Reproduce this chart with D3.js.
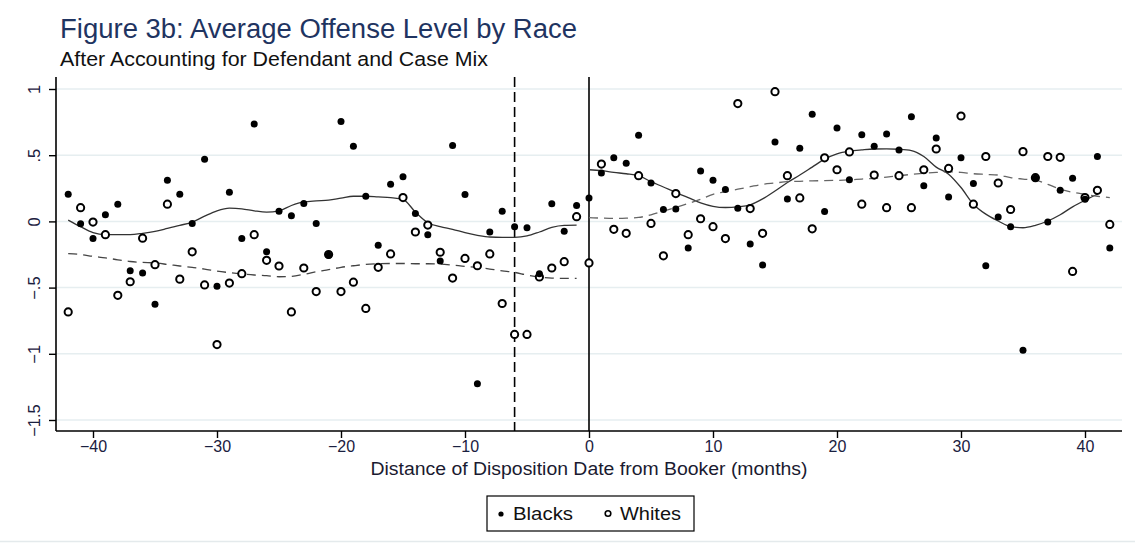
<!DOCTYPE html>
<html>
<head>
<meta charset="utf-8">
<script src="https://cdn.jsdelivr.net/npm/d3@7"></script>
<style>
  html, body { margin: 0; padding: 0; background: #fff; }
  svg { display: block; font-family: "Liberation Sans", Arial, sans-serif; }
</style>
</head>
<body>
<svg id="chart" width="1135" height="544"></svg>
<script>
// ---------- data ----------
const months = [-42,-41,-40,-39,-38,-37,-36,-35,-34,-33,-32,-31,-30,-29,-28,-27,-26,-25,-24,-23,-22,-21,-20,-19,-18,-17,-16,-15,-14,-13,-12,-11,-10,-9,-8,-7,-6,-5,-4,-3,-2,-1,
  0,1,2,3,4,5,6,7,8,9,10,11,12,13,14,15,16,17,18,19,20,21,22,23,24,25,26,27,28,29,30,31,32,33,34,35,36,37,38,39,40,41,42];

const blacks = [0.205,-0.018,-0.13,0.05,0.13,-0.373,-0.39,-0.626,0.31,0.205,-0.015,0.47,-0.49,0.22,-0.13,0.735,-0.23,0.076,0.043,0.135,-0.015,-0.256,0.755,0.568,0.19,-0.18,0.28,0.337,0.06,-0.10,-0.30,0.573,0.203,-1.227,-0.08,0.076,-0.04,-0.048,-0.395,0.134,-0.074,0.12,
  0.177,0.365,0.48,0.44,0.65,0.29,0.09,0.094,-0.20,0.38,0.31,0.24,0.10,-0.17,-0.33,0.60,0.17,0.553,0.81,0.074,0.705,0.314,0.654,0.568,0.66,0.54,0.79,0.27,0.63,0.185,0.48,0.287,-0.335,0.033,-0.04,-0.973,0.325,-0.005,0.235,0.325,0.167,0.49,-0.20];

const whites = [-0.684,0.104,-0.005,-0.10,-0.558,-0.456,-0.127,-0.327,0.13,-0.436,-0.23,-0.48,-0.93,-0.466,-0.395,-0.10,-0.294,-0.337,-0.684,-0.352,-0.53,-0.25,-0.53,-0.459,-0.657,-0.347,-0.246,0.18,-0.08,-0.028,-0.233,-0.428,-0.28,-0.335,-0.246,-0.62,-0.854,-0.854,-0.42,-0.352,-0.304,0.036,
  -0.314,0.433,-0.06,-0.09,0.345,-0.015,-0.26,0.21,-0.10,0.02,-0.04,-0.13,0.89,0.097,-0.09,0.98,0.345,0.177,-0.056,0.48,0.39,0.525,0.13,0.35,0.104,0.345,0.104,0.39,0.547,0.40,0.796,0.13,0.49,0.29,0.09,0.527,0.33,0.49,0.484,-0.378,0.18,0.235,-0.023];

// smoothed fits
const preMonths = [-42,-41,-40,-39,-38,-37,-36,-35,-34,-33,-32,-31,-30,-29,-28,-27,-26,-25,-24,-23,-22,-21,-20,-19,-18,-17,-16,-15,-14,-13,-12,-11,-10,-9,-8,-7,-6,-5,-4,-3,-2,-1];
const blackFitPre = [0.01,-0.04,-0.085,-0.10,-0.10,-0.10,-0.09,-0.075,-0.053,-0.03,-0.005,0.04,0.08,0.10,0.095,0.08,0.07,0.08,0.12,0.147,0.155,0.16,0.175,0.19,0.19,0.185,0.18,0.167,0.07,-0.01,-0.04,-0.06,-0.085,-0.105,-0.118,-0.12,-0.12,-0.11,-0.08,-0.045,-0.03,-0.028];
const whiteFitPre = [-0.243,-0.25,-0.264,-0.275,-0.29,-0.303,-0.31,-0.314,-0.325,-0.337,-0.348,-0.36,-0.375,-0.387,-0.397,-0.405,-0.41,-0.418,-0.415,-0.40,-0.38,-0.365,-0.347,-0.335,-0.325,-0.32,-0.318,-0.318,-0.32,-0.32,-0.322,-0.33,-0.34,-0.347,-0.36,-0.373,-0.385,-0.405,-0.42,-0.428,-0.43,-0.43];
const postMonthsB = [0,1,2,3,4,5,6,7,8,9,10,11,12,13,14,15,16,17,18,19,20,21,22,23,24,25,26,27,28,29,30,31,32,33,34,35,36,37,38,39,40,41];
const blackFitPost = [0.39,0.383,0.37,0.36,0.345,0.30,0.26,0.218,0.18,0.14,0.114,0.105,0.11,0.125,0.17,0.23,0.294,0.35,0.41,0.47,0.51,0.53,0.54,0.547,0.548,0.545,0.535,0.49,0.41,0.357,0.256,0.13,0.055,0.003,-0.04,-0.048,-0.03,0.003,0.05,0.11,0.16,0.205];
const postMonthsW = [0,1,2,3,4,5,6,7,8,9,10,11,12,13,14,15,16,17,18,19,20,21,22,23,24,25,26,27,28,29,30,31,32,33,34,35,36,37,38,39,40,41,42];
const whiteFitPost = [0.028,0.025,0.023,0.025,0.03,0.05,0.078,0.105,0.135,0.167,0.205,0.225,0.243,0.262,0.28,0.29,0.30,0.303,0.306,0.308,0.31,0.314,0.32,0.325,0.335,0.345,0.355,0.363,0.37,0.375,0.37,0.36,0.355,0.35,0.33,0.32,0.312,0.28,0.243,0.22,0.205,0.19,0.18];

const xTicks = [-40,-30,-20,-10,0,10,20,30,40];
const yTicks = [1,0.5,0,-0.5,-1,-1.5];
const yTickLabels = ["1",".5","0","\u2212.5","\u22121","\u22121.5"];
const vLines = [{x:-6, dash:"10,5", w:1.6}, {x:0, dash:null, w:1.6}];

const titleText = "Figure 3b: Average Offense Level by Race";
const subtitleText = "After Accounting for Defendant and Case Mix";
const xTitle = "Distance of Disposition Date from Booker (months)";
const legendLabels = ["Blacks","Whites"];

// ---------- layout ----------
const svg = d3.select("#chart");
const plotL = 56, plotR = 1122, plotT = 77, plotB = 431;
const x = d3.scaleLinear().domain([-40,40]).range([93,1085]);
const y = d3.scaleLinear().domain([-1.5,1]).range([420,89]);

svg.append("rect").attr("width",1135).attr("height",544).attr("fill","#fff");

// gridlines
svg.append("g").selectAll("line").data(yTicks).join("line")
  .attr("x1",plotL).attr("x2",plotR)
  .attr("y1",d=>y(d)).attr("y2",d=>y(d))
  .attr("stroke","#e6eef0").attr("stroke-width",1.5);

// titles
svg.append("text").attr("x",60).attr("y",38).attr("font-size",27)
  .attr("fill","#1f3461").attr("textLength",517).attr("lengthAdjust","spacingAndGlyphs").text(titleText);
svg.append("text").attr("x",60).attr("y",66).attr("font-size",20.5)
  .attr("fill","#111").attr("textLength",428).attr("lengthAdjust","spacingAndGlyphs").text(subtitleText);

// y axis
const yAxis = d3.axisLeft(y).tickValues(yTicks).tickSize(7).tickFormat((d,i)=>yTickLabels[i]);
const gy = svg.append("g").attr("transform",`translate(${plotL},0)`).call(yAxis);
gy.select(".domain").remove();
gy.selectAll(".tick line").attr("stroke","#000").attr("stroke-width",1.4);
gy.selectAll(".tick text")
  .attr("font-size",16.5).attr("fill","#1a2040")
  .attr("x",0).attr("y",0).attr("dy",null).attr("dx",null)
  .attr("text-anchor","middle")
  .attr("transform","translate(-16,0) rotate(-90)");
svg.append("line").attr("x1",plotL).attr("x2",plotL).attr("y1",plotT).attr("y2",plotB)
  .attr("stroke","#000").attr("stroke-width",1.6);

// x axis
const xAxis = d3.axisBottom(x).tickValues(xTicks).tickSize(7).tickFormat(d=>d<0?"\u2212"+Math.abs(d):String(d));
const gx = svg.append("g").attr("transform",`translate(0,${plotB})`).call(xAxis);
gx.select(".domain").remove();
gx.selectAll(".tick line").attr("stroke","#000").attr("stroke-width",1.4);
gx.selectAll(".tick text").attr("font-size",16).attr("fill","#1a2040").attr("y",10);
svg.append("line").attr("x1",plotL).attr("x2",plotR).attr("y1",plotB).attr("y2",plotB)
  .attr("stroke","#000").attr("stroke-width",1.6);

svg.append("text").attr("x",589).attr("y",475).attr("text-anchor","middle")
  .attr("font-size",17.5).attr("fill","#1a1a30")
  .attr("textLength",437).attr("lengthAdjust","spacingAndGlyphs").text(xTitle);

// vertical reference lines
svg.append("g").selectAll("line").data(vLines).join("line")
  .attr("x1",d=>x(d.x)).attr("x2",d=>x(d.x))
  .attr("y1",plotT).attr("y2",plotB)
  .attr("stroke","#000").attr("stroke-width",d=>d.w)
  .attr("stroke-dasharray",d=>d.dash);

// fitted lines
const line = d3.line().x(d=>x(d[0])).y(d=>y(d[1])).curve(d3.curveMonotoneX);
const fits = [
  {m:preMonths, v:blackFitPre, dash:null, c:"#333"},
  {m:preMonths, v:whiteFitPre, dash:"9,6", c:"#444"},
  {m:postMonthsB, v:blackFitPost, dash:null, c:"#333"},
  {m:postMonthsW, v:whiteFitPost, dash:"9,6", c:"#666"}
];
svg.append("g").selectAll("path").data(fits).join("path")
  .attr("d",f=>line(f.m.map((mm,i)=>[mm,f.v[i]])))
  .attr("fill","none").attr("stroke",f=>f.c).attr("stroke-width",1.3)
  .attr("stroke-dasharray",f=>f.dash);

// points: whites (hollow) then blacks (filled)
svg.append("g").selectAll("circle").data(months.map((m,i)=>[m,whites[i]])).join("circle")
  .attr("cx",d=>x(d[0])).attr("cy",d=>y(d[1])).attr("r",3.6)
  .attr("fill","#fff").attr("stroke","#000").attr("stroke-width",2);
svg.append("g").selectAll("circle").data(months.map((m,i)=>[m,blacks[i]])).join("circle")
  .attr("cx",d=>x(d[0])).attr("cy",d=>y(d[1])).attr("r",3.5)
  .attr("fill","#000");

// legend
const lg = svg.append("g");
lg.append("rect").attr("x",487).attr("y",496).attr("width",207).attr("height",35)
  .attr("fill","#fff").attr("stroke","#000").attr("stroke-width",1.2);
lg.append("circle").attr("cx",501).attr("cy",514).attr("r",2.6).attr("fill","#000");
lg.append("text").attr("x",513).attr("y",520).attr("font-size",17.5).attr("fill","#111")
  .attr("textLength",60).attr("lengthAdjust","spacingAndGlyphs").text(legendLabels[0]);
lg.append("circle").attr("cx",608).attr("cy",513.5).attr("r",2.8).attr("fill","#fff").attr("stroke","#000").attr("stroke-width",1.6);
lg.append("text").attr("x",620).attr("y",520).attr("font-size",17.5).attr("fill","#111")
  .attr("textLength",61).attr("lengthAdjust","spacingAndGlyphs").text(legendLabels[1]);

// outer bottom border
svg.append("line").attr("x1",0).attr("x2",1135).attr("y1",541.5).attr("y2",541.5)
  .attr("stroke","#e4eaec").attr("stroke-width",1.5);
</script>
</body>
</html>
